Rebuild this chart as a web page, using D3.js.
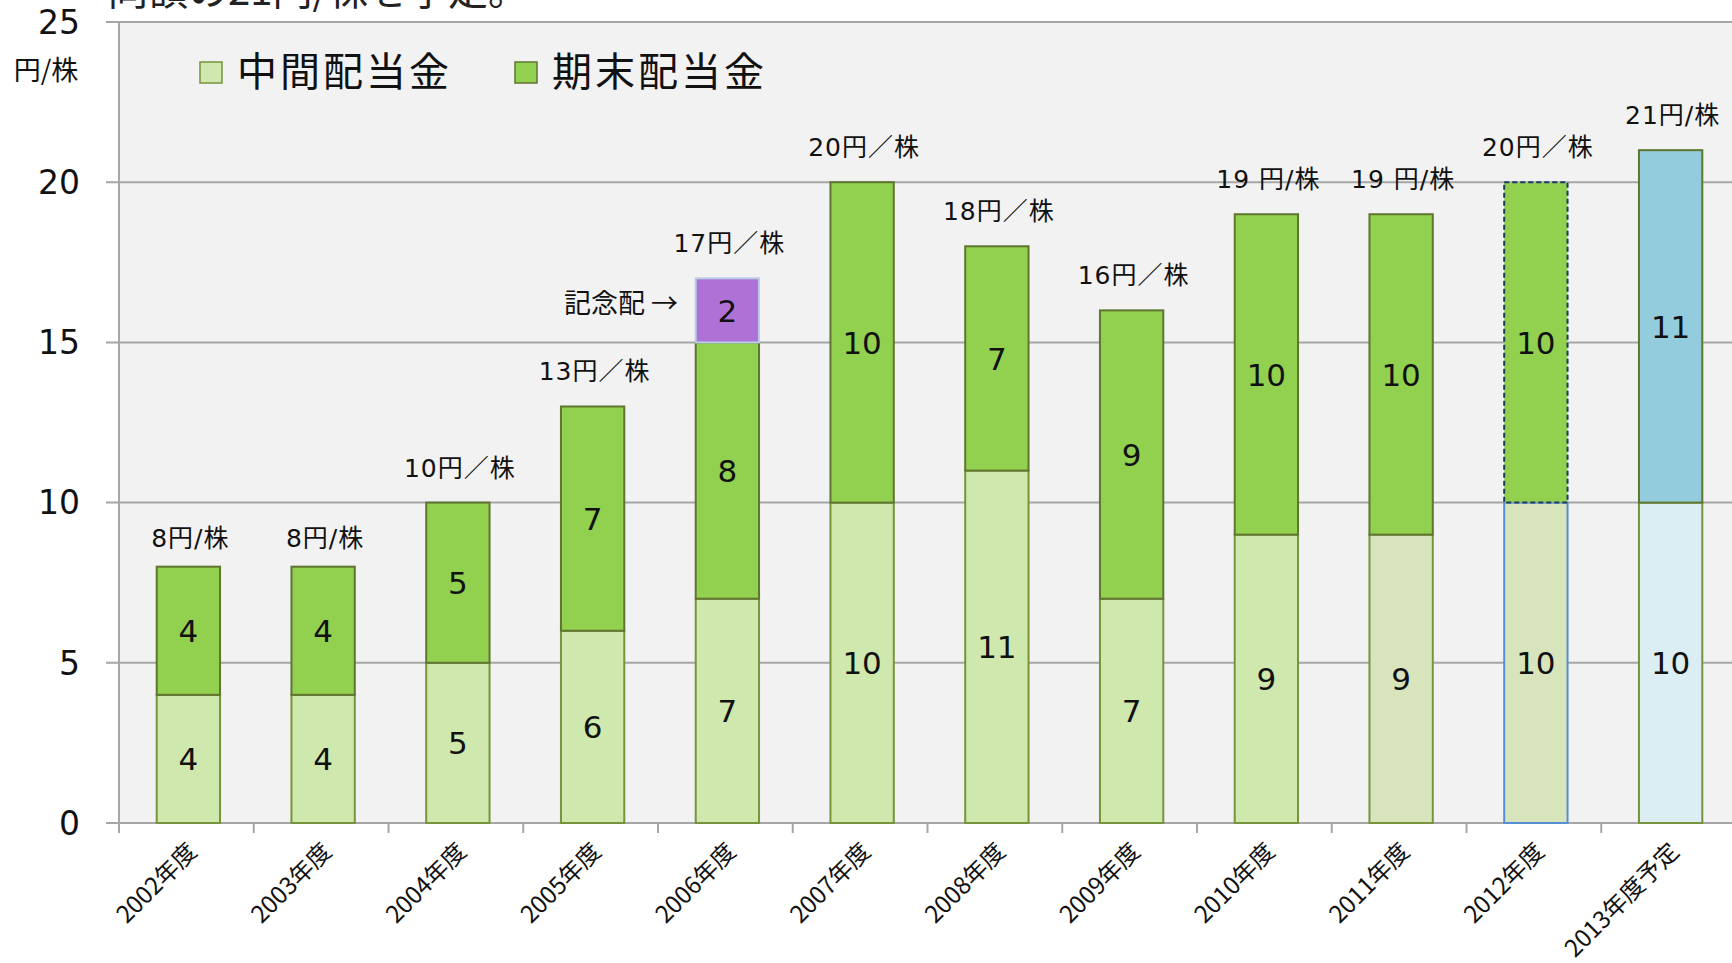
<!DOCTYPE html>
<html>
<head>
<meta charset="utf-8">
<script src="https://cdn.jsdelivr.net/npm/d3@7"></script>
<style>
  html, body { margin: 0; padding: 0; background: #fff; }
  svg { display: block; }
</style>
</head>
<body>
<svg id="chart"></svg>
<script>
var WIDTH = 1732;
var HEIGHT = 963;

//chart data
var categories = ["2002年度", "2003年度", "2004年度", "2005年度", "2006年度", "2007年度",
  "2008年度", "2009年度", "2010年度", "2011年度", "2012年度", "2013年度予定"];
var midValues = [4, 4, 5, 6, 7, 10, 11, 7, 9, 9, 10, 10];   //中間配当金
var endValues = [4, 4, 5, 7, 8, 10, 7, 9, 10, 10, 10, 11];  //期末配当金
var extraValues = [0, 0, 0, 0, 2, 0, 0, 0, 0, 0, 0, 0];     //記念配
var totalLabels = ["8円/株", "8円/株", "10円／株", "13円／株", "17円／株", "20円／株",
  "18円／株", "16円／株", "19 円/株", "19 円/株", "20円／株", "21円/株"];
var yTicks = [0, 5, 10, 15, 20, 25];
var legendNames = ["中間配当金", "期末配当金"];

var rows = categories.map(function (c, i) {
  return { cat: c, mid: midValues[i], end: endValues[i], extra: extraValues[i], label: totalLabels[i] };
});

//scales
var x = d3.scaleBand().domain(categories).range([119, 1736]);
var y = d3.scaleLinear().domain([0, 25]).range([823, 22]);
var barW = x.bandwidth() * 0.47;

var svg = d3.select("#chart").attr("width", WIDTH).attr("height", HEIGHT);

//plot background
svg.append("rect")
  .attr("x", 119).attr("y", y(25))
  .attr("width", WIDTH - 119).attr("height", y(0) - y(25))
  .style("fill", "#f2f2f2");

//headline above the chart, cut by the top edge as in the source slide
svg.append("text")
  .attr("x", 108).attr("y", 5)
  .style("font-family", "'Noto Sans CJK JP'")
  .style("font-size", "40px")
  .style("fill", "#222")
  .text("同額の21円/株を予定。");

//gridlines
svg.append("g").selectAll("line")
  .data(yTicks)
  .enter()
  .append("line")
  .attr("x1", 106).attr("x2", WIDTH)
  .attr("y1", function (d) { return y(d); })
  .attr("y2", function (d) { return y(d); })
  .style("stroke", "#a6a6a6")
  .style("stroke-width", "2px");

//y axis line
svg.append("line")
  .attr("x1", 119).attr("x2", 119)
  .attr("y1", y(25)).attr("y2", y(0))
  .style("stroke", "#a6a6a6").style("stroke-width", "2px");

//y tick labels
svg.append("g").selectAll("text")
  .data(yTicks)
  .enter()
  .append("text")
  .attr("x", 80)
  .attr("y", function (d) { return y(d); })
  .attr("dy", "0.36em")
  .attr("text-anchor", "end")
  .style("font-family", "'DejaVu Sans'")
  .style("font-size", "33px")
  .style("fill", "#111")
  .text(function (d) { return d; });

svg.append("text")
  .attr("x", 46).attr("y", 80)
  .attr("text-anchor", "middle")
  .style("font-family", "'Noto Sans CJK JP'")
  .style("font-size", "27px")
  .style("fill", "#111")
  .text("円/株");

//x tick marks at band edges
var edges = categories.map(function (c) { return x(c); });
svg.append("g").selectAll("line")
  .data(edges)
  .enter()
  .append("line")
  .attr("x1", function (d) { return d; })
  .attr("x2", function (d) { return d; })
  .attr("y1", y(0)).attr("y2", y(0) + 10)
  .style("stroke", "#a6a6a6").style("stroke-width", "2px");

//x labels, rotated
svg.append("g").selectAll("text")
  .data(categories)
  .enter()
  .append("text")
  .attr("text-anchor", "end")
  .attr("transform", function (d) {
    var cx = x(d) + x.bandwidth() / 2 + 6;
    return "translate(" + cx + "," + (y(0) + 24) + ") rotate(-45)";
  })
  .attr("dy", "0.35em")
  .style("font-family", "'Noto Sans CJK JP'")
  .style("font-size", "24px")
  .style("fill", "#111")
  .text(function (d) { return d; });

//bar style per year
function midStyle(i) {
  if (i === 9) return { fill: "#d8e4bc", stroke: "#77933c", dash: null };
  if (i === 10) return { fill: "#d8e4bc", stroke: "#558ed5", dash: null };
  if (i === 11) return { fill: "#dbeef4", stroke: "#77933c", dash: null };
  return { fill: "#cfe8ad", stroke: "#77933c", dash: null };
}
function endStyle(i) {
  if (i === 10) return { fill: "#92d050", stroke: "#1f3864", dash: "5,3" };
  if (i === 11) return { fill: "#93cddd", stroke: "#5f7530", dash: null };
  return { fill: "#92d050", stroke: "#5f7530", dash: null };
}

//stacked segments
var stack = d3.stack().keys(["mid", "end", "extra"]);
var series = stack(rows);
var bars = svg.append("g");

series.forEach(function (s) {
  bars.selectAll(null)
    .data(s.filter(function (d) { return d[1] > d[0]; }))
    .enter()
    .append("rect")
    .attr("x", function (d) { return x(d.data.cat) + (x.bandwidth() - barW) / 2 + 2; })
    .attr("y", function (d) { return y(d[1]); })
    .attr("width", barW)
    .attr("height", function (d) { return y(d[0]) - y(d[1]); })
    .each(function (d) {
      var i = categories.indexOf(d.data.cat);
      var st;
      if (s.key === "mid") st = midStyle(i);
      else if (s.key === "end") st = endStyle(i);
      else st = { fill: "#ae72d6", stroke: "#b9cde5", dash: null };
      d3.select(this)
        .style("fill", st.fill)
        .style("stroke", st.stroke)
        .style("stroke-width", "2px")
        .style("stroke-dasharray", st.dash);
    });

  //segment value labels
  bars.selectAll(null)
    .data(s.filter(function (d) { return d[1] > d[0]; }))
    .enter()
    .append("text")
    .attr("x", function (d) { return x(d.data.cat) + x.bandwidth() / 2 + 2; })
    .attr("y", function (d) { return (y(d[0]) + y(d[1])) / 2; })
    .attr("dy", "0.36em")
    .attr("text-anchor", "middle")
    .style("font-family", "'DejaVu Sans'")
    .style("font-size", "31px")
    .style("fill", "#111")
    .text(function (d) { return d[1] - d[0]; });
});

//total labels above bars
svg.append("g").selectAll("text")
  .data(rows)
  .enter()
  .append("text")
  .attr("x", function (d) { return x(d.cat) + x.bandwidth() / 2 + 4; })
  .attr("y", function (d) {
    var t = d.mid + d.end + d.extra;
    return y(t) - (t < 10 ? 20 : 26);
  })
  .attr("text-anchor", "middle")
  .style("font-family", "'DejaVu Sans', 'Noto Sans CJK JP'")
  .style("font-size", "25px")
  .style("letter-spacing", "1px")
  .style("fill", "#111")
  .text(function (d) { return d.label; });

//記念配 annotation
svg.append("text")
  .attr("x", 678).attr("y", y(16.2))
  .attr("dy", "0.35em")
  .attr("text-anchor", "end")
  .style("font-family", "'Noto Sans CJK JP'")
  .style("font-size", "27px")
  .style("fill", "#111")
  .text("記念配 →");

//legend
var legendX = [200, 515];
var legendFill = ["#cfe8ad", "#92d050"];
var legendStroke = ["#77933c", "#5f7530"];
var legend = svg.append("g").selectAll("g")
  .data(legendNames)
  .enter()
  .append("g");
legend.append("rect")
  .attr("x", function (d, i) { return legendX[i]; })
  .attr("y", 62)
  .attr("width", 22).attr("height", 21)
  .style("fill", function (d, i) { return legendFill[i]; })
  .style("stroke", function (d, i) { return legendStroke[i]; })
  .style("stroke-width", "1.5px");
legend.append("text")
  .attr("x", function (d, i) { return legendX[i] + 37; })
  .attr("y", 71)
  .attr("dy", "0.38em")
  .style("font-family", "'Noto Sans CJK JP'")
  .style("font-size", "40px")
  .style("letter-spacing", "3px")
  .style("fill", "#111")
  .text(function (d) { return d; });
</script>
</body>
</html>
